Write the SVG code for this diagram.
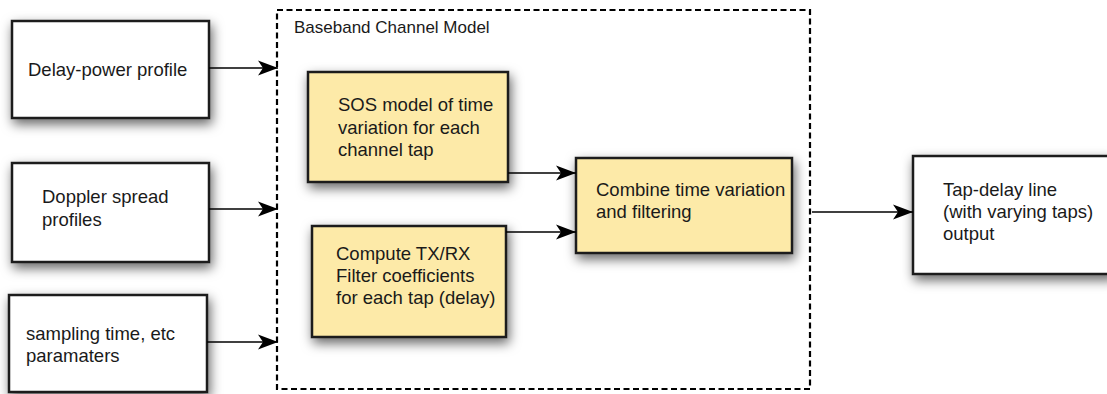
<svg xmlns="http://www.w3.org/2000/svg" width="1107" height="394" viewBox="0 0 1107 394">
<style>
text{font-family:"Liberation Sans",Arial,sans-serif;font-size:18.5px;fill:#1a1a1a}
.box{stroke:#1a1a1a;stroke-width:2.5;filter:url(#sh)}
.w{fill:#fff}
.y{fill:#fdeaa8}
.c{stroke:#000;stroke-width:1.6;fill:none;marker-end:url(#ah)}
.dash{fill:none;stroke:#000;stroke-width:2.2;stroke-dasharray:6 3.5}
</style>
<defs>
<filter id="sh" x="-30%" y="-30%" width="160%" height="170%">
<feDropShadow dx="2" dy="5" stdDeviation="6" flood-color="#000" flood-opacity="0.6"/>
</filter>
<marker id="ah" markerWidth="20" markerHeight="16" refX="20" refY="8" orient="auto" markerUnits="userSpaceOnUse">
<path d="M0,0.5 L20,8 L0,15.5 L5,8 Z" fill="#000"/>
</marker>
</defs>
<rect width="1107" height="394" fill="#fff"/>
<g id="baseband">
<rect class="dash" x="277" y="10" width="533" height="379"/>
<text x="294" y="33" style="font-size:17px">Baseband Channel Model</text>
</g>
<g id="delay-power">
<rect class="box w" x="12" y="21" width="197" height="97"/>
<text x="28" y="76">Delay-power profile</text>
</g>
<g id="doppler">
<rect class="box w" x="12" y="163" width="197" height="99"/>
<text x="42" y="203">Doppler spread</text>
<text x="42" y="226">profiles</text>
</g>
<g id="sampling">
<rect class="box w" x="9" y="295" width="198" height="97"/>
<text x="26" y="340">sampling time, etc</text>
<text x="26" y="362">paramaters</text>
</g>
<g id="sos">
<rect class="box y" x="308" y="72" width="200" height="110"/>
<text x="338" y="111">SOS model of time</text>
<text x="338" y="133.5">variation for each</text>
<text x="338" y="156">channel tap</text>
</g>
<g id="compute">
<rect class="box y" x="312" y="226" width="194" height="111"/>
<text x="336" y="260">Compute TX/RX</text>
<text x="336" y="282">Filter coefficients</text>
<text x="336" y="304">for each tap (delay)</text>
</g>
<g id="combine">
<rect class="box y" x="576" y="158" width="216" height="95"/>
<text x="596" y="196">Combine time variation</text>
<text x="596" y="218">and filtering</text>
</g>
<g id="output">
<rect class="box w" x="913" y="156" width="200" height="118"/>
<text x="943" y="196">Tap-delay line</text>
<text x="943" y="218">(with varying taps)</text>
<text x="943" y="240">output</text>
</g>
<g id="connectors">
<path class="c" d="M209,68 H278"/>
<path class="c" d="M209,209 H278"/>
<path class="c" d="M207,342 H278"/>
<path class="c" d="M508,173 H576"/>
<path class="c" d="M506,232 H576"/>
<path class="c" d="M812,212 H913"/>
</g>
</svg>
